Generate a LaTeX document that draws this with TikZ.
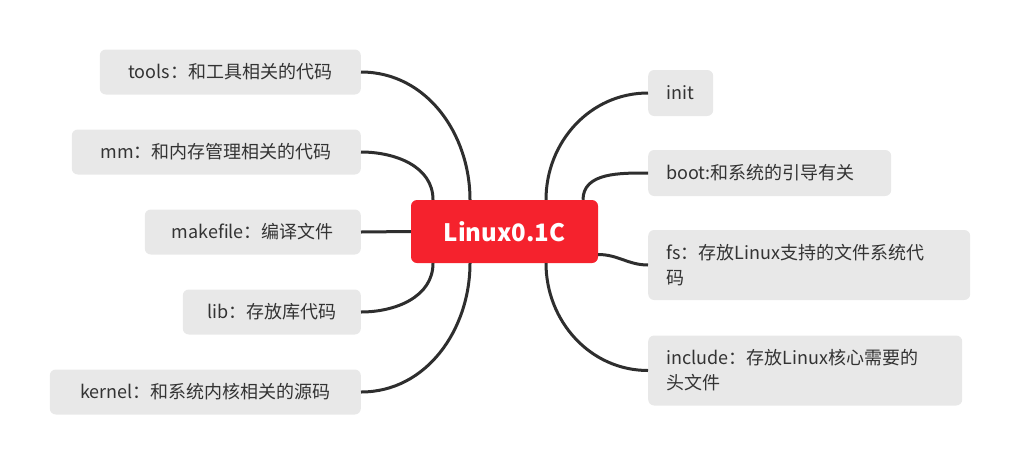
\documentclass[tikz,border=0pt]{standalone}
\usepackage{fontspec}
\setmainfont{Noto Sans CJK SC}
\usepackage{xcolor}
\usepackage{tikz}
\usetikzlibrary{positioning}
\definecolor{topicred}{HTML}{F5222D}
\definecolor{subgray}{HTML}{E8E8E8}
\definecolor{inkgray}{HTML}{333333}
\definecolor{linkgray}{HTML}{2E2E2E}

\begin{document}
\begin{tikzpicture}[
    x=1pt, y=1pt,
    topic/.style={fill=topicred, rounded corners=6pt, minimum width=187pt, minimum height=63pt,
                  text=white, font=\fontsize{24}{28}\selectfont\bfseries},
    sub/.style={fill=subgray, rounded corners=6pt, minimum height=45pt, inner xsep=18pt,
                text=inkgray, align=left, font=\fontsize{18}{25}\selectfont},
    line/.style={draw=linkgray, line width=3pt}
]
\useasboundingbox (0,0) rectangle (1020,-464);

\node[topic] (root) at (504.5,-231.5) {Linux0.1C};

\node[sub, anchor=east, minimum width=261pt] (tools)    at (361,-72)  {tools：和工具相关的代码};
\node[sub, anchor=east, minimum width=289pt] (mm)       at (361,-152) {mm：和内存管理相关的代码};
\node[sub, anchor=east, minimum width=216pt] (makefile) at (361,-232) {makefile：编译文件};
\node[sub, anchor=east, minimum width=178pt] (lib)      at (361,-312) {lib：存放库代码};
\node[sub, anchor=east, minimum width=311pt] (kernel)   at (361,-392) {kernel：和系统内核相关的源码};

\node[sub, anchor=west, text width=29pt,  minimum height=46pt] (init)    at (648,-93)  {init};
\node[sub, anchor=west, text width=207pt, minimum height=46pt] (boot)    at (648,-173) {boot:和系统的引导有关};
\node[sub, anchor=west, text width=286pt, minimum height=70pt] (fs)      at (648,-265) {fs：存放Linux支持的文件系统代\\码};
\node[sub, anchor=west, text width=278pt, minimum height=70pt] (include) at (648,-370.5) {include：存放Linux核心需要的\\头文件};

\draw[line] (tools.east)    to[out=0,in=90]   ([xshift=-34.5pt]root.north);
\draw[line] (mm.east)       to[out=0,in=90]   ([xshift=-71.5pt]root.north);
\draw[line] (makefile.east) -- (root.west);
\draw[line] (lib.east)      to[out=0,in=-90]  ([xshift=-71.5pt]root.south);
\draw[line] (kernel.east)   to[out=0,in=-90]  ([xshift=-34.5pt]root.south);

\draw[line] ([xshift=41.5pt]root.north) to[out=90,in=180]  (init.west);
\draw[line] ([xshift=78.5pt]root.north) to[out=90,in=180]  (boot.west);
\draw[line] ([yshift=-23pt]root.east)   to[out=0,in=180]   (fs.west);
\draw[line] ([xshift=41.5pt]root.south) to[out=-90,in=180] (include.west);
\end{tikzpicture}
\end{document}
